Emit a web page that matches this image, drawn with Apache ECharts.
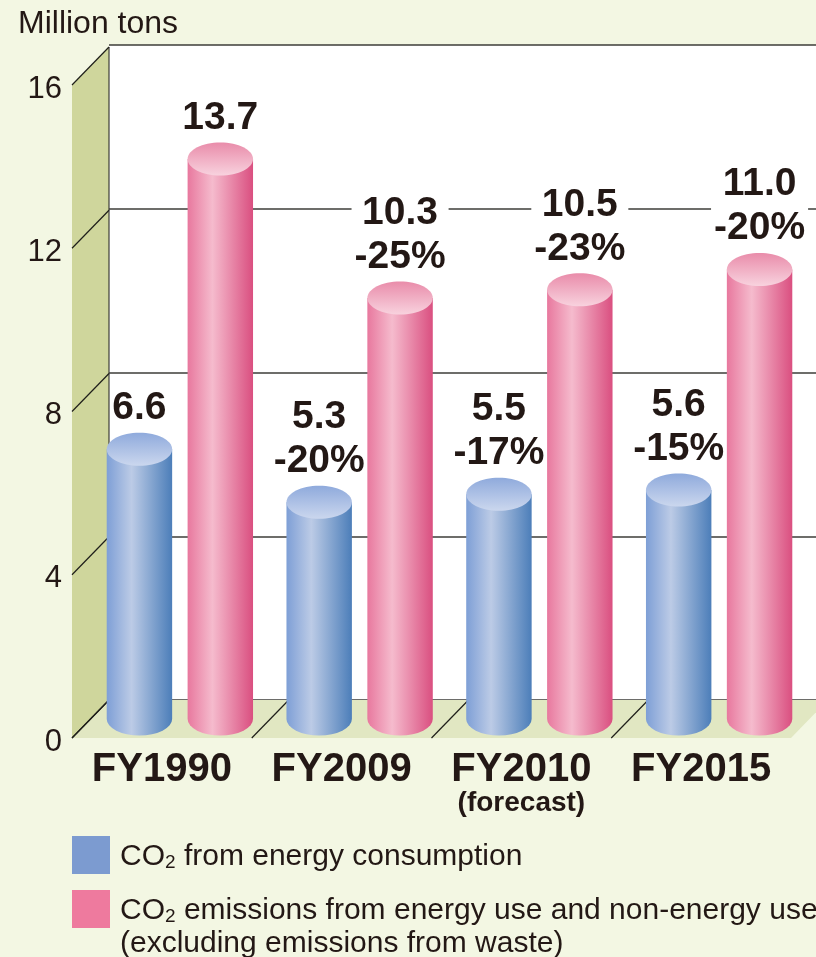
<!DOCTYPE html>
<html>
<head>
<meta charset="utf-8">
<style>html,body{margin:0;padding:0;background:#F3F7E3}#c{width:816px;height:957px}</style>
<script src="https://cdn.jsdelivr.net/npm/echarts@6/dist/echarts.min.js"></script>
</head>
<body>
<div id="c"></div>
<script>
// CO2 emissions by fiscal year, drawn as 3D-style cylinders
const categories = ['FY1990', 'FY2009', 'FY2010', 'FY2015'];
const categoryNotes = ['', '', '(forecast)', ''];
const energyValues = [6.6, 5.3, 5.5, 5.6];
const energyChanges = ['', '-20%', '-17%', '-15%'];
const totalValues = [13.7, 10.3, 10.5, 11.0];
const totalChanges = ['', '-25%', '-23%', '-20%'];
const yTicks = [0, 4, 8, 12, 16];
const energyName = 'CO2 from energy consumption';
const totalName = 'CO2 emissions from energy use and non-energy use';
const totalNote = '(excluding emissions from waste)';

const FONT = '"Liberation Sans", Arial, sans-serif';
const INK = '#231815';
const LINE = '#3c3c38';
const DEPTH_X = 37, DEPTH_Y = -38;

const palette = {
  energy: {
    swatch: '#7C9BD0',
    side: ['#7E9FD6', '#BCCBE6', '#4C7EB9'],
    top: ['#8FAADC', '#CBD7EE'],
    align: -1
  },
  total: {
    swatch: '#EE7A9E',
    side: ['#E8789E', '#F5BBCD', '#DA4F80'],
    top: ['#E98CAA', '#F8D2DE'],
    align: 1
  }
};

function sideGradient(c) {
  return new echarts.graphic.LinearGradient(0, 0, 1, 0, [
    { offset: 0, color: c[0] }, { offset: 0.38, color: c[1] }, { offset: 1, color: c[2] }
  ]);
}
function topGradient(c) {
  return new echarts.graphic.LinearGradient(0, 0, 0, 1, [
    { offset: 0, color: c[0] }, { offset: 1, color: c[1] }
  ]);
}

function cylinderSeries(name, values, changes, look, maskLabels) {
  return {
    name,
    type: 'custom',
    xAxisIndex: 2,
    yAxisIndex: 2,
    z: 5,
    itemStyle: { color: look.swatch },
    data: values.map((v, i) => [i, v]),
    renderItem(params, api) {
      const i = api.value(0), v = api.value(1);
      const band = api.size([1, 0])[0];
      const cx = api.coord([i, 0])[0] + look.align * band * 0.225;
      const base = api.coord([i, 0])[1];
      const top = api.coord([i, v])[1];
      const rx = band * 0.182, ry = 16.5;
      const change = changes[i];
      const text = (change ? v.toFixed(1) + '\n' + change : v.toFixed(1));
      return {
        type: 'group',
        children: [
          {
            type: 'path',
            shape: {
              pathData: `M${cx - rx} ${top}L${cx - rx} ${base}A${rx} ${ry} 0 0 0 ${cx + rx} ${base}L${cx + rx} ${top}Z`,
              layout: 'cover',
              x: cx - rx, y: top, width: rx * 2, height: base + ry - top
            },
            style: { fill: sideGradient(look.side) }
          },
          {
            type: 'ellipse',
            shape: { cx, cy: top, rx, ry },
            style: { fill: topGradient(look.top) }
          },
          {
            type: 'text',
            z2: 10,
            style: {
              text,
              x: cx,
              y: top - 19,
              align: 'center',
              verticalAlign: 'bottom',
              font: `bold 39px ${FONT}`,
              lineHeight: 44,
              fill: INK,
              backgroundColor: maskLabels && change ? '#fff' : 'transparent',
              padding: [0, 3]
            }
          }
        ]
      };
    }
  };
}

// Left wall and floor hang off the front plane of the axes, with the depth offset added
const wallSeries = {
  type: 'custom',
  xAxisIndex: 0,
  yAxisIndex: 0,
  z: 1,
  silent: true,
  data: [0],
  renderItem(params, api) {
    const sys = params.coordSys;
    const x = sys.x, right = sys.x + sys.width;
    const y0 = api.coord([0, yTicks[0]])[1];
    const yMax = api.coord([0, yTicks[yTicks.length - 1]])[1];
    const band = api.size([1, 0])[0];
    const children = [
      {
        type: 'polygon',
        shape: { points: [[x, y0], [x + DEPTH_X, y0 + DEPTH_Y], [right + DEPTH_X, y0 + DEPTH_Y], [right, y0]] },
        style: { fill: '#E1E7C2' }
      },
      {
        type: 'polygon',
        shape: { points: [[x, y0], [x, yMax], [x + DEPTH_X, yMax + DEPTH_Y], [x + DEPTH_X, y0 + DEPTH_Y]] },
        style: { fill: '#CFD69C' }
      },
      {
        type: 'line',
        shape: { x1: x + DEPTH_X, y1: yMax + DEPTH_Y, x2: x + DEPTH_X, y2: y0 + DEPTH_Y },
        style: { stroke: LINE, lineWidth: 1.2 }
      }
    ];
    yTicks.forEach(t => {
      const y = api.coord([0, t])[1];
      children.push({
        type: 'line',
        shape: { x1: x, y1: y, x2: x + DEPTH_X, y2: y + DEPTH_Y },
        style: { stroke: '#1f1f1a', lineWidth: 1.2 }
      });
    });
    categories.forEach((c, i) => {
      const gx = api.coord([i, 0])[0] - band / 2;
      children.push({
        type: 'line',
        shape: { x1: gx, y1: y0, x2: gx + DEPTH_X, y2: y0 + DEPTH_Y },
        style: { stroke: '#1f1f1a', lineWidth: 1.2 }
      });
    });
    return { type: 'group', children };
  }
};

const chart = echarts.init(document.getElementById('c'), null, { renderer: 'canvas' });
const sub = { fontFamily: FONT, fontSize: 19, color: INK, verticalAlign: 'bottom', lineHeight: 26 };
chart.setOption({
  animation: false,
  backgroundColor: '#F3F7E3',
  title: {
    text: 'Million tons',
    left: 18,
    top: 8,
    padding: 0,
    textStyle: { fontFamily: FONT, fontSize: 32, fontWeight: 'normal', color: INK }
  },
  legend: {
    orient: 'vertical',
    left: 72,
    top: 836,
    padding: 0,
    width: 744,
    itemWidth: 38,
    itemHeight: 38,
    itemGap: 16,
    icon: 'rect',
    selectedMode: false,
    data: [energyName, totalName],
    formatter: n => `{a|CO}{b|2}{a|${n.slice(3)}}`,
    textStyle: {
      padding: [4, 0, 0, 5],
      rich: {
        a: { fontFamily: FONT, fontSize: 30, color: INK },
        b: sub
      }
    }
  },
  graphic: [{
    type: 'text',
    left: 120,
    top: 929,
    style: { text: totalNote, font: `30px ${FONT}`, fill: INK }
  }],
  grid: [
    { left: 72, width: 719, top: 85, height: 653, show: false },
    { left: 109, right: 0, top: 45, height: 655, show: true, backgroundColor: '#fff', borderWidth: 0 },
    { left: 90, width: 719, top: 65, height: 654, show: false }
  ],
  xAxis: [
    {
      type: 'category',
      gridIndex: 0,
      data: categories.map((c, i) => ({ value: c, note: categoryNotes[i] })),
      axisLine: { show: false },
      axisTick: { show: false },
      axisLabel: {
        margin: 12,
        interval: 0,
        formatter: (c, i) => categoryNotes[i] ? `{a|${c}}\n{b|${categoryNotes[i]}}` : `{a|${c}}`,
        verticalAlign: 'top',
        rich: {
          a: { fontFamily: FONT, fontSize: 40, fontWeight: 'bold', color: INK, lineHeight: 40 },
          b: { fontFamily: FONT, fontSize: 28, fontWeight: 'bold', color: INK, lineHeight: 26 }
        }
      }
    },
    { type: 'category', gridIndex: 1, data: categories, show: false },
    { type: 'category', gridIndex: 2, data: categories, show: false }
  ],
  yAxis: [
    {
      type: 'value',
      gridIndex: 0,
      min: 0,
      max: 16,
      interval: 4,
      axisLine: { show: false },
      axisTick: { show: false },
      splitLine: { show: false },
      axisLabel: { margin: 10, fontFamily: FONT, fontSize: 31, color: INK, verticalAlign: 'top', lineHeight: 8 }
    },
    {
      type: 'value',
      gridIndex: 1,
      min: 0,
      max: 16,
      interval: 4,
      axisLine: { show: false },
      axisTick: { show: false },
      axisLabel: { show: false },
      splitLine: { show: true, lineStyle: { color: LINE, width: 1.5 } }
    },
    { type: 'value', gridIndex: 2, min: 0, max: 16, interval: 4, show: false }
  ],
  series: [
    wallSeries,
    cylinderSeries(energyName, energyValues, energyChanges, palette.energy, false),
    cylinderSeries(totalName, totalValues, totalChanges, palette.total, true)
  ]
});
</script>
</body>
</html>
